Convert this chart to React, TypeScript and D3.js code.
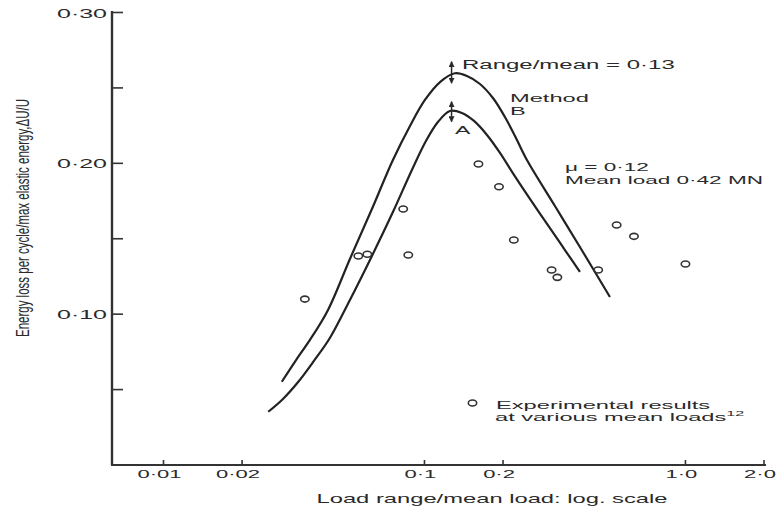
import React from "react";
import * as d3 from "d3";

// ---- Data ----
const xTickValues = [0.01, 0.02, 0.1, 0.2, 1.0, 2.0];
const xTickLabels = ["0·01", "0·02", "0·1", "0·2", "1·0", "2·0"];
const yTickValues = [0.05, 0.1, 0.15, 0.2, 0.25, 0.3];
const yLabelValues = [0.1, 0.2, 0.3];
const yLabelTexts = ["0·10", "0·20", "0·30"];

// Method B (upper curve)
const curveBX = [0.0284, 0.0322, 0.0364, 0.0427, 0.0518, 0.0629, 0.0757, 0.088, 0.1004, 0.1147, 0.1309, 0.1455, 0.1632, 0.183, 0.2034, 0.2242, 0.247, 0.3162, 0.4048, 0.5137];
const curveBY = [0.0552, 0.0696, 0.0829, 0.1028, 0.1366, 0.1697, 0.2022, 0.2248, 0.242, 0.2539, 0.2597, 0.2579, 0.2526, 0.2433, 0.2307, 0.2168, 0.2022, 0.1717, 0.1412, 0.1114];
// Method A (lower curve)
const curveAX = [0.0252, 0.0287, 0.0328, 0.0377, 0.0434, 0.0518, 0.0629, 0.0757, 0.0895, 0.1013, 0.1126, 0.1252, 0.1392, 0.1548, 0.1736, 0.1947, 0.2203, 0.2536, 0.3026, 0.3454, 0.3942];
const curveAY = [0.0353, 0.0438, 0.055, 0.069, 0.0842, 0.1094, 0.1386, 0.1677, 0.1956, 0.2148, 0.2274, 0.2347, 0.2334, 0.2281, 0.2188, 0.2069, 0.1923, 0.1764, 0.1571, 0.1425, 0.128];

// Experimental results
const pointsX = [0.0348, 0.0558, 0.0604, 0.0829, 0.0867, 0.161, 0.193, 0.22, 0.307, 0.323, 0.463, 0.545, 0.635, 1.0];
const pointsY = [0.11, 0.1386, 0.1397, 0.1697, 0.1392, 0.1996, 0.1845, 0.1492, 0.1293, 0.1244, 0.1293, 0.1591, 0.1516, 0.1333];

// Peak markers (range/mean ≈ 0.13)
const arrowX = 0.127;
const arrowUpperY = [0.2674, 0.2531];
const arrowLowerY = [0.2409, 0.2276];

const FONT = "'Liberation Sans', Arial, Helvetica, sans-serif";
const INK = "#2a2a2a";

function T({ x, y, sx = 2, size = 12, anchor = "start", children }: any) {
  return (
    <text
      transform={`translate(${x},${y}) scale(${sx},1)`}
      fontSize={size}
      textAnchor={anchor}
      fontFamily={FONT}
      fill={INK}
    >
      {children}
    </text>
  );
}

export default function App() {
  const W = 777;
  const H = 506;
  const x = d3.scaleLog().domain([0.01, 2]).range([163.5, 764]);
  const y = d3.scaleLinear().domain([0, 0.3]).range([465, 12.5]);
  const axisX0 = 112;
  const axisY0 = 465;

  const line = d3
    .line<[number, number]>()
    .x((d) => x(d[0]))
    .y((d) => y(d[1]))
    .curve(d3.curveCatmullRom.alpha(0.5));

  const bData = curveBX.map((v, i) => [v, curveBY[i]] as [number, number]);
  const aData = curveAX.map((v, i) => [v, curveAY[i]] as [number, number]);

  return (
    <svg
      width={W}
      height={H}
      style={{ position: "absolute", left: 0, top: 0, background: "#fff" }}
    >
      <defs>
        <marker
          id="ah"
          viewBox="0 0 10 10"
          refX="9"
          refY="5"
          markerWidth="4"
          markerHeight="4"
          orient="auto-start-reverse"
        >
          <path d="M0,0 L10,5 L0,10 z" fill={INK} />
        </marker>
      </defs>
      <rect width={W} height={H} fill="#fff" />

      {/* Axes */}
      <line x1={axisX0} y1={axisY0} x2={axisX0} y2={11} stroke="#333" strokeWidth={2.4} />
      <line x1={axisX0 - 1} y1={axisY0} x2={766} y2={axisY0} stroke="#333" strokeWidth={2.2} />

      {yTickValues.map((v) => (
        <line key={"yt" + v} x1={axisX0} x2={axisX0 + 11} y1={y(v)} y2={y(v)} stroke="#333" strokeWidth={1.6} />
      ))}
      {yLabelValues.map((v, i) => (
        <T key={"yl" + v} x={107} y={y(v) + 5} size={12.5} anchor="end">
          {yLabelTexts[i]}
        </T>
      ))}

      {xTickValues.map((v) => (
        <line key={"xt" + v} x1={x(v)} x2={x(v)} y1={axisY0} y2={axisY0 - 5} stroke="#333" strokeWidth={1.6} />
      ))}
      {xTickValues.map((v, i) => (
        <T key={"xl" + v} x={x(v) - 4} y={478} size={11} anchor="middle">
          {xTickLabels[i]}
        </T>
      ))}

      <T x={492} y={503} size={12.5} sx={1.9} anchor="middle">
        Load range/mean load: log. scale
      </T>

      <text
        transform="translate(29,218) rotate(-90) scale(1,1.6)"
        fontSize={11.5}
        textAnchor="middle"
        fontFamily={FONT}
        fill={INK}
      >
        Energy loss per cycle/max elastic energy,ΔU/U
      </text>

      {/* Curves */}
      <path d={line(bData) || ""} fill="none" stroke="#222" strokeWidth={2.2} />
      <path d={line(aData) || ""} fill="none" stroke="#222" strokeWidth={2.2} />

      {/* Peak arrows */}
      <line x1={x(arrowX)} x2={x(arrowX)} y1={y(arrowUpperY[0])} y2={y(arrowUpperY[1])} stroke={INK} strokeWidth={1.5} markerStart="url(#ah)" markerEnd="url(#ah)" />
      <line x1={x(arrowX)} x2={x(arrowX)} y1={y(arrowLowerY[0])} y2={y(arrowLowerY[1])} stroke={INK} strokeWidth={1.5} markerStart="url(#ah)" markerEnd="url(#ah)" />

      {/* Points */}
      {pointsX.map((v, i) => (
        <ellipse key={"p" + i} cx={x(v)} cy={y(pointsY[i])} rx={4.2} ry={3} fill="none" stroke="#333" strokeWidth={1.6} />
      ))}

      {/* Annotations */}
      <T x={462} y={68.5} size={12}>Range/mean = 0·13</T>
      <T x={510} y={101.5} size={11} sx={2.15}>Method</T>
      <T x={510} y={114.5} size={11} sx={2.15}>B</T>
      <T x={455} y={134} size={11} sx={2.1}>A</T>
      <T x={565} y={171} size={11} sx={2.05}>μ = 0·12</T>
      <T x={565} y={183.5} size={11} sx={2.05}>Mean load 0·42 MN</T>

      {/* Legend */}
      <ellipse cx={472.5} cy={403} rx={4.2} ry={3} fill="none" stroke="#333" strokeWidth={1.6} />
      <T x={496} y={408.5} size={11} sx={2.15}>Experimental results</T>
      <T x={495} y={421} size={11} sx={2.15}>
        at various mean loads
        <tspan dy={-5} fontSize={7.5}>12</tspan>
      </T>
    </svg>
  );
}
